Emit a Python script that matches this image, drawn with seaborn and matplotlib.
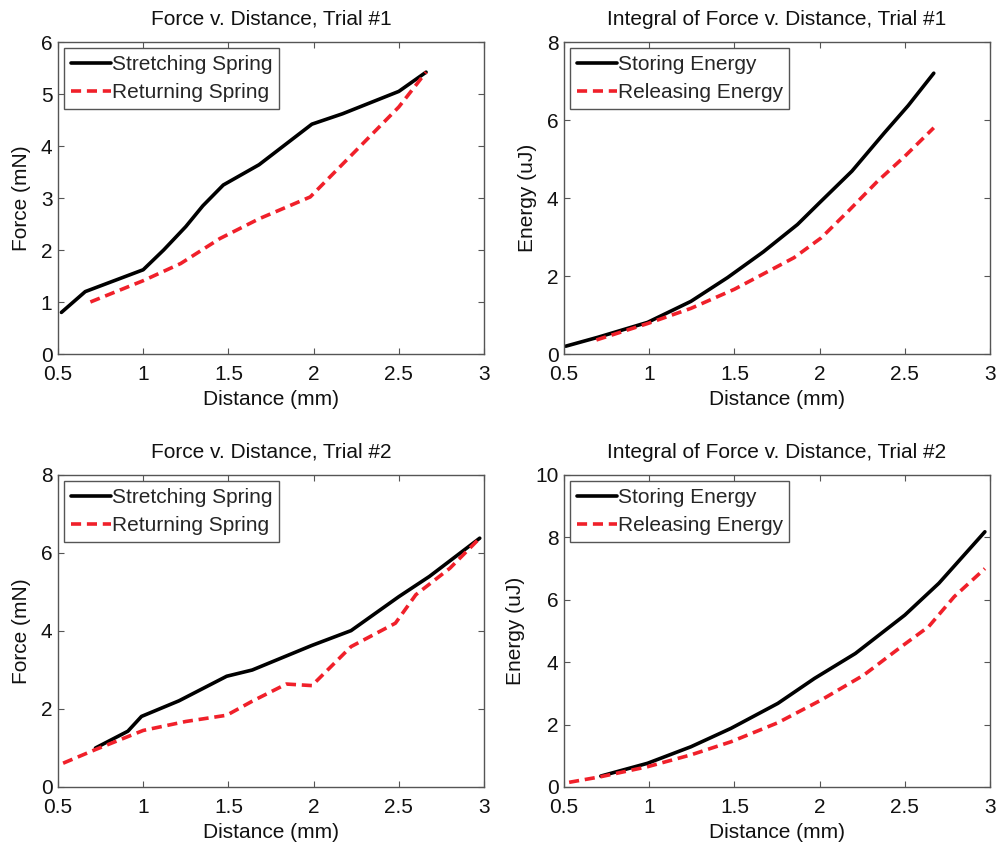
import matplotlib
matplotlib.use("Agg")
import matplotlib.pyplot as plt
import seaborn as sns
import pandas as pd

sns.set_theme(style="white")
plt.rcParams["font.family"] = ["Liberation Sans", "DejaVu Sans"]

# Trial 1: force while stretching and returning (mm, mN)
t1_stretch_x = [0.52, 0.66, 1.0, 1.12, 1.25, 1.35, 1.47, 1.68, 1.99, 2.17, 2.5, 2.66]
t1_stretch_y = [0.80, 1.20, 1.62, 2.0, 2.45, 2.85, 3.25, 3.64, 4.42, 4.62, 5.05, 5.42]
t1_return_x = [0.69, 1.0, 1.22, 1.45, 1.68, 1.98, 2.23, 2.5, 2.66]
t1_return_y = [1.0, 1.41, 1.74, 2.22, 2.60, 3.02, 3.85, 4.75, 5.42]

# Trial 1: energy (uJ)
t1_store_x = [0.51, 0.70, 0.99, 1.245, 1.46, 1.67, 1.87, 2.0, 2.19, 2.38, 2.52, 2.67]
t1_store_y = [0.20, 0.43, 0.81, 1.35, 1.96, 2.62, 3.32, 3.88, 4.69, 5.67, 6.37, 7.20]
t1_release_x = [0.69, 0.99, 1.245, 1.5, 1.85, 2.01, 2.17, 2.34, 2.5, 2.67]
t1_release_y = [0.36, 0.78, 1.17, 1.66, 2.47, 2.98, 3.67, 4.43, 5.07, 5.80]

# Trial 2: force (mN)
t2_stretch_x = [0.72, 0.91, 0.99, 1.21, 1.49, 1.64, 1.99, 2.22, 2.5, 2.68, 2.975]
t2_stretch_y = [1.0, 1.43, 1.81, 2.21, 2.84, 3.0, 3.63, 4.01, 4.88, 5.4, 6.38]
t2_return_x = [0.53, 0.72, 1.0, 1.25, 1.49, 1.64, 1.84, 1.99, 2.22, 2.48, 2.6, 2.8, 2.975]
t2_return_y = [0.61, 0.96, 1.45, 1.68, 1.84, 2.2, 2.64, 2.6, 3.6, 4.2, 4.93, 5.61, 6.38]

# Trial 2: energy (uJ)
t2_store_x = [0.716, 0.99, 1.245, 1.48, 1.755, 1.97, 2.21, 2.5, 2.70, 2.97]
t2_store_y = [0.35, 0.76, 1.29, 1.88, 2.68, 3.48, 4.28, 5.51, 6.53, 8.18]
t2_release_x = [0.53, 0.716, 0.99, 1.245, 1.48, 1.755, 2.01, 2.26, 2.48, 2.64, 2.79, 2.97]
t2_release_y = [0.15, 0.33, 0.65, 1.03, 1.45, 2.06, 2.79, 3.59, 4.50, 5.14, 6.10, 7.00]

panels = [
    ("Force v. Distance, Trial #1", "Force (mN)", (0, 6), [0, 1, 2, 3, 4, 5, 6],
     ("Stretching Spring", t1_stretch_x, t1_stretch_y),
     ("Returning Spring", t1_return_x, t1_return_y)),
    ("Integral of Force v. Distance, Trial #1", "Energy (uJ)", (0, 8), [0, 2, 4, 6, 8],
     ("Storing Energy", t1_store_x, t1_store_y),
     ("Releasing Energy", t1_release_x, t1_release_y)),
    ("Force v. Distance, Trial #2", "Force (mN)", (0, 8), [0, 2, 4, 6, 8],
     ("Stretching Spring", t2_stretch_x, t2_stretch_y),
     ("Returning Spring", t2_return_x, t2_return_y)),
    ("Integral of Force v. Distance, Trial #2", "Energy (uJ)", (0, 10), [0, 2, 4, 6, 8, 10],
     ("Storing Energy", t2_store_x, t2_store_y),
     ("Releasing Energy", t2_release_x, t2_release_y)),
]

fig = plt.figure(figsize=(9.96, 8.49), dpi=100)
W, H = 996, 849
boxes = [(58, 42), (564, 42), (58, 475), (564, 475)]
aw, ah = 426, 312

spine_col = "#555555"
text_col = "#111111"
for (left, top), (title, ylabel, ylim, yticks, solid, dashed) in zip(boxes, panels):
    ax = fig.add_axes([left / W, 1 - (top + ah) / H, aw / W, ah / H])
    df_s = pd.DataFrame({"x": solid[1], "y": solid[2]})
    df_d = pd.DataFrame({"x": dashed[1], "y": dashed[2]})
    sns.lineplot(data=df_s, x="x", y="y", ax=ax, color="black", lw=2.6,
                 label=solid[0], sort=False)
    sns.lineplot(data=df_d, x="x", y="y", ax=ax, color="#f0202a", lw=2.6,
                 label=dashed[0], sort=False, linestyle=(0, (2.8, 1.6)))
    ax.set_xlim(0.5, 3)
    ax.set_ylim(*ylim)
    ax.set_xticks([0.5, 1, 1.5, 2, 2.5, 3])
    ax.set_xticklabels(["0.5", "1", "1.5", "2", "2.5", "3"])
    ax.set_yticks(yticks)
    ax.set_yticklabels([str(t) for t in yticks])
    ax.tick_params(direction="in", length=4, width=0.8, color=spine_col,
                   top=True, right=True, bottom=True, left=True,
                   labelsize=15, labelcolor=text_col)
    ax.tick_params(axis="x", pad=8)
    ax.tick_params(axis="y", pad=4)
    for s in ax.spines.values():
        s.set_color(spine_col)
        s.set_linewidth(1.0)
    ax.set_title(title, fontsize=15, color=text_col, pad=12.5)
    ax.set_xlabel("Distance (mm)", fontsize=15, color=text_col, labelpad=4)
    ax.set_ylabel(ylabel, fontsize=15, color=text_col, labelpad=7)
    leg = ax.legend(loc="upper left", fontsize=15, frameon=True, fancybox=False,
                    handlelength=1.9, handletextpad=0.05, borderpad=0.32,
                    labelspacing=0.45, borderaxespad=0.3, edgecolor=spine_col)
    leg.get_frame().set_linewidth(1.0)
    leg.get_frame().set_alpha(1)

fig.savefig("out.png", dpi=100, facecolor="white")
